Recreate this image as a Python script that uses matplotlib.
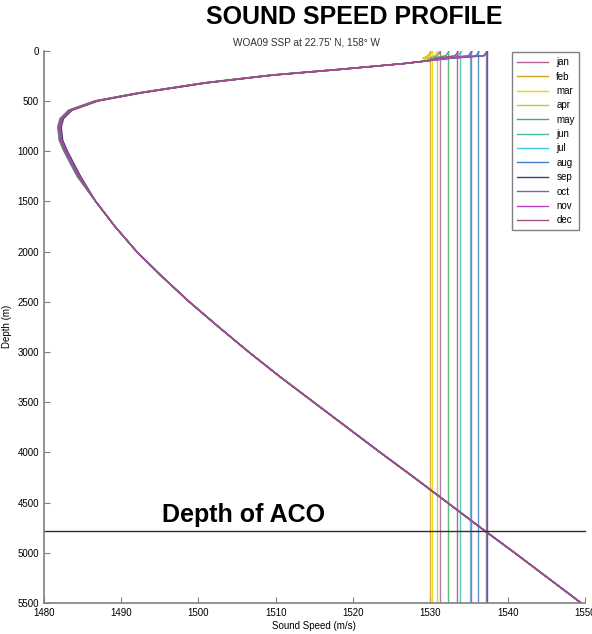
import matplotlib
matplotlib.use("Agg")
import matplotlib.pyplot as plt

plt.rcParams['font.family'] = ['Liberation Sans', 'DejaVu Sans']

months = ['jan', 'feb', 'mar', 'apr', 'may', 'jun', 'jul', 'aug', 'sep', 'oct', 'nov', 'dec']
colors = ['#b0609a', '#d4a020', '#e8d800', '#b0d040', '#40b060', '#40c0a0',
          '#40c8e0', '#4080c0', '#404080', '#8060a0', '#c040c0', '#a05080']

# surface sound speed per month (m/s)
surface_speed = [1531.2, 1530.0, 1530.2, 1530.9, 1532.3, 1533.9,
                 1535.2, 1536.2, 1537.3, 1537.2, 1535.3, 1533.5]
# small month-to-month spread in the thermocline (m/s)
thermo_offset = [0.1, -0.2, 0.2, -0.1, 0.15, -0.2, 0.05, -0.05, 0.25, -0.15, 0.1, 0.0]

# shared profile below the mixed layer
depth_common = [100, 127, 187, 243, 320, 420, 500, 593, 676, 760, 893, 1000,
                1250, 1500, 1750, 2000, 2250, 2500, 2750, 3000, 3250, 3500,
                3750, 4000, 4250, 4500, 4750, 5000, 5500]
speed_common = [1529.7, 1526.7, 1518.1, 1509.5, 1500.9, 1492.4, 1486.8, 1483.4,
                1482.3, 1482.0, 1482.2, 1482.8, 1484.5, 1486.7, 1489.2, 1492.0,
                1495.3, 1498.8, 1502.6, 1506.5, 1510.6, 1514.9, 1519.2, 1523.5,
                1527.9, 1532.2, 1536.5, 1540.9, 1549.5]
depth_surface = [0, 10, 20, 30, 50, 75]

aco_depth = 4780
max_depth = 5500

fig = plt.figure(figsize=(5.92, 6.34), dpi=100)
ax = fig.add_axes([0.074, 0.049, 0.914, 0.871])

for i, m in enumerate(months):
    s0 = surface_speed[i]
    top = [s0, s0 + 0.1, s0, s0 - 0.1, s0 - 0.3, (s0 + 1529.7) / 2 - 0.8]
    mid = [v + (thermo_offset[i] if 150 < d < 1300 else 0) for d, v in zip(depth_common, speed_common)]
    ax.plot(top + mid, depth_surface + depth_common, color=colors[i], lw=1.0, label=m)
    ax.vlines(s0, 0, max_depth, color=colors[i], lw=1.0, alpha=0.85)

ax.axhline(aco_depth, color='#303030', lw=1.0, clip_on=False)
ax.text(1505.8, aco_depth - 40, 'Depth of ACO', fontsize=18, fontweight='bold', va='bottom', ha='center')

ax.set_xlim(1480, 1550)
ax.set_ylim(max_depth, 0)
ax.set_xticks(range(1480, 1551, 10))
ax.set_yticks(range(0, 5501, 500))
ax.tick_params(direction='in', labelsize=7, length=4, color='#808080')
for sp in ['top', 'right']:
    ax.spines[sp].set_visible(False)
for sp in ['left', 'bottom']:
    ax.spines[sp].set_color('#808080')
    ax.spines[sp].set_linewidth(1.2)

ax.set_xlabel('Sound Speed (m/s)', fontsize=7, labelpad=2)
ax.set_ylabel('Depth (m)', fontsize=7, labelpad=4)

leg = ax.legend(loc='upper right', fontsize=7, handlelength=3.2, labelspacing=0.45,
                borderpad=0.5, fancybox=False, framealpha=1, borderaxespad=0,
                bbox_to_anchor=(0.99, 0.997))
leg.get_frame().set_edgecolor('#808080')

fig.text(0.598, 0.973, 'SOUND SPEED PROFILE', fontsize=18, fontweight='bold', ha='center', va='center')
fig.text(0.518, 0.933, "WOA09 SSP at 22.75' N, 158° W", fontsize=7.2, ha='center', va='center', color='#303030')

fig.savefig('out.png', dpi=100)
